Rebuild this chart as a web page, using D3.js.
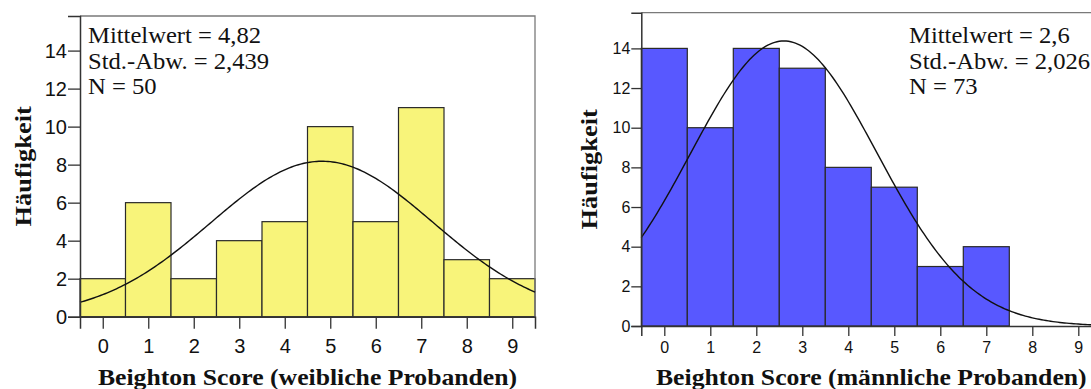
<!DOCTYPE html>
<html>
<head>
<meta charset="utf-8">
<script src="https://cdn.jsdelivr.net/npm/d3@7/dist/d3.min.js"></script>
<style>
  html, body { margin: 0; padding: 0; background: #fff; }
  svg { display: block; }
</style>
</head>
<body>
<svg id="chart" width="1091" height="389"></svg>
<script>
// ---- data ----
const scores = [0, 1, 2, 3, 4, 5, 6, 7, 8, 9];
const femaleCounts = [2, 6, 2, 4, 5, 10, 5, 11, 3, 2];
const maleCounts = [14, 10, 14, 13, 8, 7, 3, 4];
const yTickValues = [0, 2, 4, 6, 8, 10, 12, 14];
const femaleStats = [4.82, 2.439, 50];   // mean, sd, N
const maleStats = [2.6, 2.026, 73];
const femaleStatLabels = ["Mittelwert = 4,82", "Std.-Abw. = 2,439", "N = 50"];
const maleStatLabels = ["Mittelwert = 2,6", "Std.-Abw. = 2,026", "N = 73"];
const yTitle = "Häufigkeit";
const femaleXTitle = "Beighton Score (weibliche Probanden)";
const maleXTitle = "Beighton Score (männliche Probanden)";

const svg = d3.select("#chart");
const SERIF = "'Liberation Serif', 'Times New Roman', serif";

// widen serif text slightly to mimic the wider Garamond face of the original
function stretch(sel, k) {
  sel.each(function () {
    const len = this.getComputedTextLength();
    d3.select(this).attr("textLength", len * k).attr("lengthAdjust", "spacingAndGlyphs");
  });
}

function panel(cfg) {
  const x = d3.scaleLinear().domain([-0.5, 9.5]).range([cfg.left, cfg.right]);
  const y = d3.scaleLinear().domain([0, cfg.yMax]).range([cfg.bottom, cfg.top]);
  const g = svg.append("g");

  // bars
  g.selectAll("rect.bar").data(cfg.counts).enter().append("rect")
    .attr("class", "bar")
    .attr("x", (d, i) => x(scores[i] - 0.5))
    .attr("width", (d, i) => x(scores[i] + 0.5) - x(scores[i] - 0.5))
    .attr("y", d => y(d))
    .attr("height", d => y(0) - y(d))
    .attr("fill", cfg.fill)
    .attr("stroke", "#2a2a2a")
    .attr("stroke-width", 1.2);

  // frame (top + right)
  g.append("path")
    .attr("d", `M${x(-0.5)},${cfg.top}H${x(9.5)}V${y(0)}`)
    .attr("fill", "none").attr("stroke", "#7a7a7a").attr("stroke-width", 1.3);

  // normal curve
  const [mu, sd, n] = cfg.stats;
  const xs = d3.range(-0.5, 9.5001, 0.05);
  const line = d3.line()
    .x(v => x(v))
    .y(v => y(n * Math.exp(-0.5 * ((v - mu) / sd) ** 2) / (sd * Math.sqrt(2 * Math.PI))));
  g.append("path").datum(xs).attr("d", line)
    .attr("fill", "none").attr("stroke", "#111").attr("stroke-width", 1.4);

  // axes
  const ya = g.append("g").attr("transform", `translate(${cfg.left},0)`)
    .call(d3.axisLeft(y).tickValues(yTickValues).tickSize(cfg.tick).tickPadding(1));
  const xa = g.append("g").attr("transform", `translate(0,${cfg.bottom})`)
    .call(d3.axisBottom(x).tickValues(scores).tickSize(cfg.tick).tickPadding(cfg.xPad));
  [ya, xa].forEach(a => {
    a.select(".domain").attr("stroke", "#333").attr("stroke-width", 1.5);
    a.selectAll(".tick line").attr("stroke", "#333").attr("stroke-width", 1.3);
    a.selectAll(".tick text").attr("fill", "#111")
      .style("font-family", "'Liberation Sans', Arial, sans-serif")
      .style("font-size", cfg.tickFont + "px");
  });

  // stats text
  g.selectAll("text.stat").data(cfg.labels).enter().append("text")
    .attr("class", "stat")
    .attr("x", cfg.statX)
    .attr("y", (d, i) => 43 + i * 25.7)
    .style("font-family", SERIF)
    .style("font-size", "23px")
    .attr("fill", "#111")
    .text(d => d)
    .call(stretch, 1.07);

  // axis titles
  g.append("text")
    .attr("x", (x(-0.5) + x(9.5)) / 2).attr("y", 385)
    .attr("text-anchor", "middle")
    .style("font-family", SERIF)
    .style("font-size", "24px").style("font-weight", "bold")
    .attr("fill", "#111")
    .text(cfg.xTitle)
    .call(stretch, 1.07);
  g.append("text")
    .attr("transform", `translate(${cfg.yTitleX},${(cfg.top + cfg.bottom) / 2}) rotate(-90)`)
    .attr("text-anchor", "middle")
    .style("font-family", SERIF)
    .style("font-size", "24px").style("font-weight", "bold")
    .attr("fill", "#111")
    .text(yTitle)
    .call(stretch, 1.1);
}

panel({
  left: 80, right: 535, top: 16, bottom: 316.7, yMax: 15.82,
  counts: femaleCounts, fill: "#F8F47A", stats: femaleStats, labels: femaleStatLabels,
  statX: 88, xTitle: femaleXTitle, yTitleX: 31, tick: 12, xPad: 10, tickFont: 20
});
panel({
  left: 641.3, right: 1101.3, top: 12.7, bottom: 326, yMax: 15.8,
  counts: maleCounts, fill: "#5858FF", stats: maleStats, labels: maleStatLabels,
  statX: 909, xTitle: maleXTitle, yTitleX: 597, tick: 10, xPad: 6, tickFont: 16
});
</script>
</body>
</html>
